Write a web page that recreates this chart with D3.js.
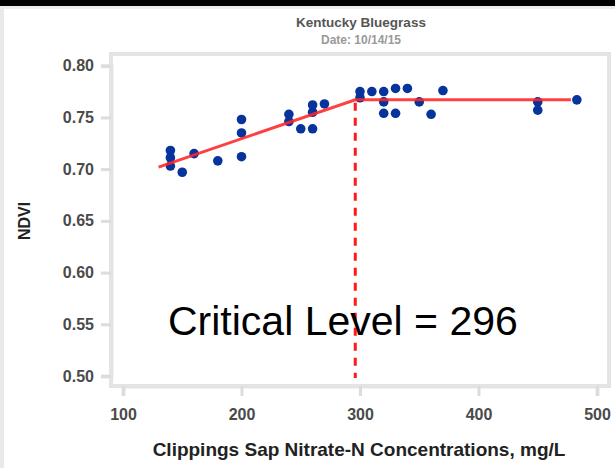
<!DOCTYPE html>
<html>
<head>
<meta charset="utf-8">
<script src="https://cdn.jsdelivr.net/npm/d3@7"></script>
<style>
  html, body { margin: 0; padding: 0; background: #fff; }
  svg { display: block; }
</style>
</head>
<body>
<svg id="chart" width="615" height="468"></svg>
<script>
// ---- data ----
const nitrate = [140,140,140,150,160,180,200,200,200,240,240,250,260,260,260,270,300,300,310,320,320,320,330,330,340,350,360,370,450,450,483];
const ndvi    = [0.718,0.711,0.703,0.697,0.715,0.708,0.748,0.735,0.712,0.753,0.746,0.739,0.739,0.762,0.755,0.763,0.775,0.769,0.775,0.775,0.765,0.754,0.778,0.754,0.778,0.765,0.753,0.776,0.765,0.757,0.767];
const fitX = [130, 296, 478];
const fitY = [0.702, 0.767, 0.767];
const criticalLevel = 296;
const xTicks = [100, 200, 300, 400, 500];
const yTicks = [0.50, 0.55, 0.60, 0.65, 0.70, 0.75, 0.80];
const titleLines = ["Kentucky Bluegrass", "Date: 10/14/15"];
const xTitle = "Clippings Sap Nitrate-N Concentrations, mg/L";
const yTitle = "NDVI";
const annotation = "Critical Level = 296";

// ---- layout ----
const svg = d3.select("#chart");
const font = "'Liberation Sans', Arial, sans-serif";
const x = d3.scaleLinear().domain([100, 500]).range([123, 597]);
const y = d3.scaleLinear().domain([0.50, 0.80]).range([376, 65.7]);
const frame = {left: 111, top: 54, right: 609, bottom: 386};

// outer decoration
svg.append("rect").attr("x", 0).attr("y", 0).attr("width", 615).attr("height", 468).attr("fill", "#fff");
svg.append("rect").attr("x", 0).attr("y", 0).attr("width", 4).attr("height", 468).attr("fill", "#e9e9e9");
svg.append("rect").attr("x", 0).attr("y", 0).attr("width", 615).attr("height", 6).attr("fill", "#000");
svg.append("rect").attr("x", 0).attr("y", 6).attr("width", 615).attr("height", 3).attr("fill", "#ececec");

// frame
svg.append("rect")
  .attr("x", frame.left).attr("y", frame.top)
  .attr("width", frame.right - frame.left).attr("height", frame.bottom - frame.top)
  .attr("fill", "none").attr("stroke", "#e4e4e4").attr("stroke-width", 4);

// axes
const yAxis = d3.axisLeft(y).tickValues(yTicks).tickFormat(d3.format(".2f")).tickSize(10).tickPadding(7);
const gy = svg.append("g").attr("transform", `translate(${frame.left},0)`).call(yAxis);
const xAxis = d3.axisBottom(x).tickValues(xTicks).tickFormat(d3.format("d")).tickSize(10).tickPadding(13);
const gx = svg.append("g").attr("transform", `translate(0,${frame.bottom})`).call(xAxis);
[gx, gy].forEach(g => {
  g.select(".domain").attr("stroke", "#e4e4e4").attr("stroke-width", 4);
  g.selectAll(".tick line").attr("stroke", "#dcdcdc").attr("stroke-width", 3);
  g.selectAll(".tick text").attr("fill", "#4a4a4a").attr("font-family", font)
    .attr("font-size", 16).attr("font-weight", "bold");
});

// titles
svg.append("text").attr("x", 361).attr("y", 27).attr("text-anchor", "middle")
  .attr("font-family", font).attr("font-size", 13.5).attr("font-weight", "bold")
  .attr("fill", "#555").text(titleLines[0]);
svg.append("text").attr("x", 361).attr("y", 44).attr("text-anchor", "middle")
  .attr("font-family", font).attr("font-size", 12).attr("font-weight", "bold")
  .attr("fill", "#999").text(titleLines[1]);
svg.append("text").attr("x", 359).attr("y", 456).attr("text-anchor", "middle")
  .attr("font-family", font).attr("font-size", 19).attr("font-weight", "bold")
  .attr("fill", "#222").text(xTitle);
svg.append("text").attr("transform", "translate(30,221) rotate(-90)").attr("text-anchor", "middle")
  .attr("font-family", font).attr("font-size", 16).attr("font-weight", "bold")
  .attr("fill", "#222").text(yTitle);

// points
svg.append("g").selectAll("circle")
  .data(nitrate.map((v, i) => [v, ndvi[i]]))
  .join("circle")
  .attr("cx", d => x(d[0])).attr("cy", d => y(d[1])).attr("r", 4.8)
  .attr("fill", "#06349c");

// fitted segmented line
const line = d3.line().x(d => x(d[0])).y(d => y(d[1]));
svg.append("path").datum(fitX.map((v, i) => [v, fitY[i]]))
  .attr("d", line).attr("fill", "none").attr("stroke", "#ff2626")
  .attr("stroke-width", 3).attr("opacity", 0.88);

// critical level dashed line
svg.append("line")
  .attr("x1", x(criticalLevel)).attr("x2", x(criticalLevel))
  .attr("y1", y(fitY[1]) + 3).attr("y2", y(0.50) + 2)
  .attr("stroke", "#ff1a1a").attr("stroke-width", 3).attr("stroke-dasharray", "8,7");

// annotation
svg.append("text").attr("x", 168).attr("y", 335)
  .attr("font-family", font).attr("font-size", 41).attr("fill", "#000")
  .text(annotation);
</script>
</body>
</html>
